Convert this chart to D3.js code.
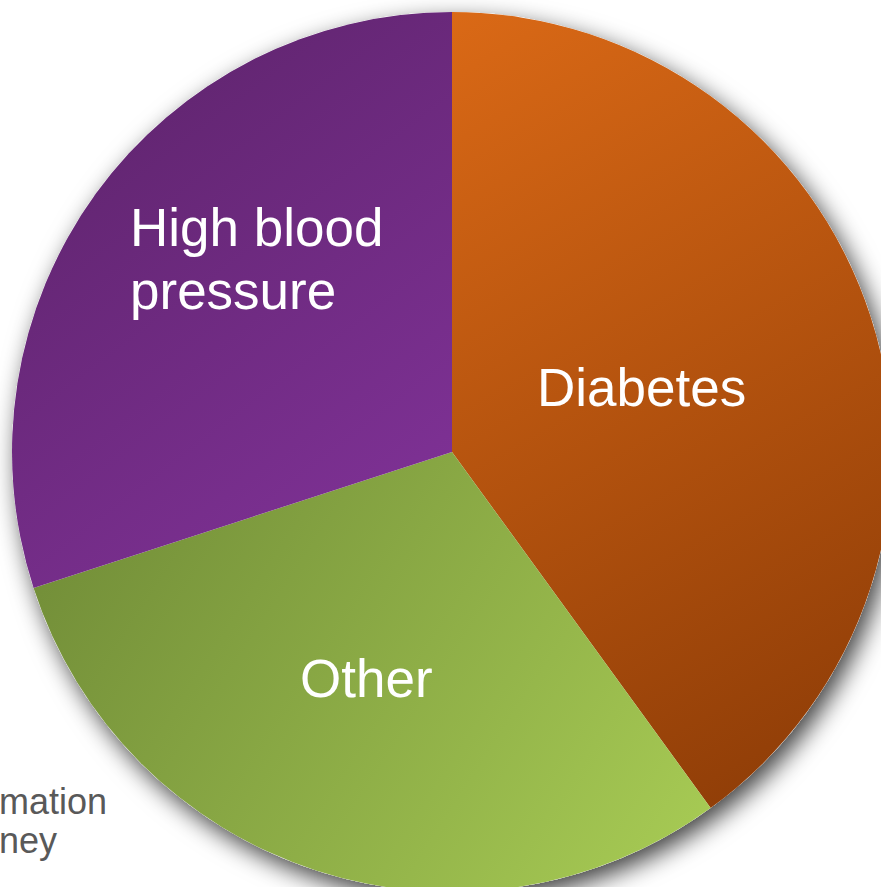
<!DOCTYPE html>
<html>
<head>
<meta charset="utf-8">
<script src="https://cdn.jsdelivr.net/npm/d3@7"></script>
<style>
  html, body { margin: 0; padding: 0; background: #ffffff; overflow: hidden; }
  svg { display: block; }
</style>
</head>
<body>
<svg id="chart" width="881" height="887"></svg>
<script>
// Data
const categories = ["Diabetes", "Other", "High blood pressure"];
const values = [40, 30, 30];
const labelLines = [["Diabetes"], ["Other"], ["High blood", "pressure"]];
const gradientStops = [
  ["#da6916", "#8a3a06"],
  ["#6e8936", "#a9cd55"],
  ["#5a2267", "#83339b"]
];
const footnoteLines = ["mation", "ney"];

const W = 881, H = 887;
const cx = 452, cy = 452, R = 440;

const svg = d3.select("#chart");
const defs = svg.append("defs");

const shadow = defs.append("filter").attr("id", "shadow")
  .attr("x", "-20%").attr("y", "-20%").attr("width", "140%").attr("height", "140%");
shadow.append("feDropShadow")
  .attr("dx", 6).attr("dy", 9).attr("stdDeviation", 12)
  .attr("flood-color", "#000").attr("flood-opacity", 0.75);

// footnote (visible part of a note running off the left edge)
const foot = svg.append("g").attr("font-family", "Liberation Sans, Arial, sans-serif")
  .attr("font-size", 36).attr("fill", "#595959").attr("text-anchor", "end");
foot.append("text").attr("x", 107).attr("y", 814).text(footnoteLines[0]);
foot.append("text").attr("x", 57).attr("y", 853).text(footnoteLines[1]);

const pie = d3.pie().sort(null).value(d => d)(values);
const arc = d3.arc().innerRadius(0).outerRadius(R);

// gradients per slice (in the pie group's local coordinates), top-left -> bottom-right
pie.forEach((p, i) => {
  const pts = [[0, 0]];
  const n = 40;
  for (let k = 0; k <= n; k++) {
    const a = p.startAngle + (p.endAngle - p.startAngle) * k / n;
    pts.push([R * Math.sin(a), -R * Math.cos(a)]);
  }
  const xs = pts.map(q => q[0]), ys = pts.map(q => q[1]);
  const g = defs.append("linearGradient").attr("id", "grad" + i)
    .attr("gradientUnits", "userSpaceOnUse")
    .attr("x1", d3.min(xs)).attr("y1", d3.min(ys))
    .attr("x2", d3.max(xs)).attr("y2", d3.max(ys));
  g.append("stop").attr("offset", "0%").attr("stop-color", gradientStops[i][0]);
  g.append("stop").attr("offset", "100%").attr("stop-color", gradientStops[i][1]);
});

const gPie = svg.append("g").attr("transform", `translate(${cx},${cy})`);
gPie.append("circle").attr("r", R).attr("fill", "#ffffff").attr("filter", "url(#shadow)");
gPie.selectAll("path.slice").data(pie).join("path")
  .attr("class", "slice")
  .attr("d", arc)
  .attr("fill", (d, i) => `url(#grad${i})`);

// labels
const labelPos = [
  { x: 537, y: 406 },
  { x: 300, y: 697 },
  { x: 130, y: 246 }
];
const lineH = 63;
const labels = svg.append("g").attr("font-family", "Liberation Sans, Arial, sans-serif")
  .attr("font-size", 53).attr("fill", "#ffffff");
labelLines.forEach((lines, i) => {
  const t = labels.append("text").attr("x", labelPos[i].x).attr("y", labelPos[i].y);
  lines.forEach((ln, j) => {
    t.append("tspan").attr("x", labelPos[i].x).attr("dy", j === 0 ? 0 : lineH).text(ln);
  });
});
</script>
</body>
</html>
